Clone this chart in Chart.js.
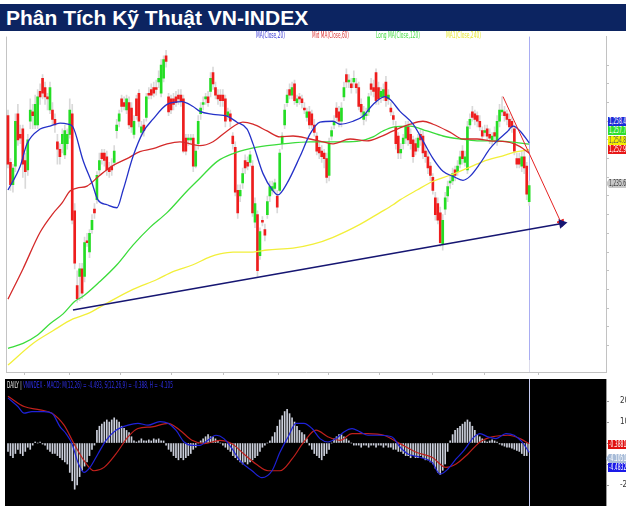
<!DOCTYPE html>
<html>
<head>
<meta charset="utf-8">
<script src="https://cdn.jsdelivr.net/npm/chart.js@4/dist/chart.umd.min.js"></script>
<style>
  body { margin: 0; width: 626px; height: 506px; overflow: hidden; background: #fff; position: relative; font-family: 'Liberation Sans', Arial, sans-serif; }
  #title { position: absolute; left: 0; top: 4px; width: 626px; height: 27px; background: #0c2461; color: #fff; font-weight: bold; font-size: 21px; line-height: 28px; padding-left: 6px; box-sizing: border-box; white-space: nowrap; }
  #main { position: absolute; left: 0; top: 31px; }
  #macd { position: absolute; left: 0; top: 379px; }
  .nt { position: absolute; font: 8px/9px 'Liberation Sans Narrow', 'Arial Narrow', 'DejaVu Sans Condensed', sans-serif; white-space: nowrap; transform-origin: 0 0; }
  .bd { position: absolute; left: 608px; width: 20px; height: 9px; font: 8px/9px 'Liberation Sans Narrow', 'Arial Narrow', 'DejaVu Sans Condensed', sans-serif; padding-left: 1px; white-space: nowrap; overflow: hidden; color: #fff; }
  .bd span { display: inline-block; transform: scaleX(0.62); transform-origin: 0 0; }
  .tag { left: 606px; width: 22px; padding-left: 3px; clip-path: polygon(0 50%, 3px 0, 100% 0, 100% 100%, 3px 100%); }
</style>
</head>
<body>
<div id="title">Phân Tích Kỹ Thuật VN-INDEX</div>
<canvas id="main" width="626" height="348"></canvas>
<canvas id="macd" width="626" height="127"></canvas>

<div class="nt" data-w="29" style="left:256px;top:31px;color:#3b3bd6">MA(Close,20)</div>
<div class="nt" data-w="37" style="left:312px;top:31px;color:#dd3a3a">Mid MA(Close,60)</div>
<div class="nt" data-w="44" style="left:376px;top:31px;color:#44dd44">Long MA(Close,120)</div>
<div class="nt" data-w="35" style="left:446px;top:31px;color:#e6e632">MA1(Close,240)</div>

<div class="bd" style="top:117px;background:#1d2bd8"><span>1,258.4</span></div>
<div class="bd" style="top:126px;background:#2ee02e"><span>1,257.7</span></div>
<div class="bd" style="top:136px;background:#f4f000;color:#555"><span>1,254.8</span></div>
<div class="bd" style="top:145px;background:#e81818"><span>1,252.9</span></div>
<div class="bd tag" style="top:179px;background:#c8c8c8;color:#333"><span>1,235.6</span></div>

<div class="nt" data-w="166" style="left:7px;top:381px"><span style="color:#e6e6e6">DAILY | </span><span style="color:#2e2ee6">VNINDEX - MACD: M(12,26) = -4.493, S(12,26,9) = -0.388, H = -4.105</span></div>

<div class="bd" style="top:440px;background:#e01010"><span>-0.3881</span></div>
<div class="bd tag" style="top:454px;background:#a8bcd8"><span>-4.1051</span></div>
<div class="bd" style="top:463px;background:#1a1ae8"><span>-4.4832</span></div>

<script>
// daily candles (index 0 = first bar on the left)
var open = [
1273,1248,1236,1246,1274,1263,1266,1249,1244,1270,
1275,1268,1268,1286,1293,1288,1283,1276,1276,1271,
1259,1255,1258,1252,1258,1263,1274,1222,1182,1187,
1191,1187,1206,1200,1212,1223,1228,1244,1253,1253,
1251,1245,1246,1248,1265,1270,1282,1280,1276,1280,
1277,1263,1282,1285,1264,1268,1272,1285,1287,1288,
1288,1291,1285,1293,1305,1283,1282,1282,1283,1284,
1284,1282,1261,1260,1260,1261,1246,1258,1274,1279,
1282,1283,1286,1296,1288,1284,1284,1284,1282,1273,
1274,1262,1256,1233,1230,1237,1249,1248,1248,1246,
1216,1220,1198,1217,1212,1220,1230,1233,1234,1230,
1233,1258,1268,1280,1287,1284,1290,1280,1283,1282,
1277,1272,1275,1274,1268,1262,1256,1254,1253,1250,
1241,1262,1268,1277,1275,1270,1283,1295,1291,1290,
1291,1290,1288,1279,1271,1273,1275,1290,1288,1296,
1288,1283,1283,1291,1282,1277,1273,1267,1262,1253,
1258,1261,1267,1263,1260,1258,1256,1263,1262,1254,
1251,1246,1240,1229,1226,1221,1204,1223,1230,1237,
1238,1244,1243,1247,1254,1248,1244,1268,1275,1274,
1273,1270,1265,1264,1266,1263,1260,1264,1259,1270,
1275,1275,1274,1271,1270,1266,1250,1250,1246,1251,
1246,1227];
var close = [
1247,1236,1245,1270,1260,1261,1247,1243,1260,1276,
1273,1279,1283,1283,1285,1283,1282,1288,1271,1268,
1255,1251,1263,1265,1263,1276,1217,1194,1175,1191,
1178,1205,1205,1210,1217,1221,1241,1249,1250,1249,
1244,1243,1244,1254,1268,1274,1278,1278,1282,1268,
1267,1270,1273,1270,1267,1265,1283,1284,1284,1285,
1287,1293,1300,1303,1302,1275,1276,1279,1280,1282,
1281,1254,1254,1261,1261,1246,1254,1270,1277,1280,
1283,1280,1293,1290,1284,1282,1281,1281,1270,1275,
1270,1258,1232,1221,1233,1242,1245,1246,1252,1221,
1226,1190,1211,1216,1209,1227,1235,1235,1237,1224,
1253,1262,1276,1284,1284,1288,1281,1282,1282,1280,
1276,1275,1268,1268,1264,1254,1253,1251,1250,1240,
1258,1265,1270,1272,1270,1277,1288,1291,1292,1288,
1293,1288,1278,1275,1275,1274,1283,1287,1286,1281,
1282,1286,1287,1281,1284,1275,1271,1258,1253,1255,
1261,1267,1260,1258,1251,1254,1261,1260,1253,1251,
1245,1241,1233,1220,1217,1205,1217,1229,1235,1238,
1242,1241,1246,1251,1250,1251,1267,1271,1272,1271,
1270,1267,1262,1265,1262,1261,1262,1262,1270,1276,
1276,1273,1271,1267,1267,1254,1247,1247,1251,1245,
1231,1235.6];
var high = [
1276,1250,1247,1274,1279,1268,1268,1253,1263,1282,
1279,1284,1287,1290,1295,1291,1285,1291,1280,1274,
1263,1258,1266,1268,1266,1282,1279,1226,1190,1194,
1194,1208,1210,1212,1220,1226,1243,1253,1255,1255,
1254,1248,1250,1257,1271,1276,1284,1283,1284,1283,
1280,1273,1284,1287,1270,1271,1285,1288,1290,1291,
1292,1297,1303,1305,1308,1285,1284,1285,1286,1287,
1287,1284,1263,1263,1263,1263,1257,1273,1280,1283,
1285,1286,1296,1299,1291,1287,1287,1287,1284,1277,
1276,1264,1259,1236,1236,1245,1252,1251,1254,1249,
1229,1222,1213,1219,1215,1230,1238,1238,1239,1233,
1255,1264,1279,1287,1290,1291,1292,1284,1285,1284,
1280,1277,1278,1276,1271,1264,1259,1257,1255,1253,
1261,1267,1273,1280,1278,1280,1291,1298,1295,1293,
1297,1293,1291,1282,1278,1277,1285,1293,1292,1298,
1291,1288,1290,1294,1287,1280,1275,1270,1264,1258,
1263,1270,1270,1266,1262,1261,1263,1266,1265,1257,
1254,1248,1242,1232,1229,1224,1220,1232,1238,1241,
1245,1246,1249,1254,1257,1254,1270,1274,1278,1276,
1275,1273,1267,1268,1268,1266,1264,1267,1273,1279,
1283,1278,1276,1274,1272,1268,1253,1253,1254,1254,
1248,1238];
var low = [
1245,1233,1232,1243,1257,1258,1240,1234,1241,1266,
1266,1266,1266,1279,1282,1279,1276,1274,1268,1264,
1247,1247,1253,1250,1255,1261,1215,1191,1173,1174,
1175,1184,1203,1197,1210,1218,1226,1241,1247,1246,
1241,1240,1241,1246,1261,1267,1275,1276,1274,1266,
1264,1261,1271,1267,1262,1262,1270,1282,1282,1283,
1284,1288,1283,1291,1299,1273,1274,1276,1278,1279,
1278,1253,1252,1257,1258,1243,1245,1255,1271,1276,
1279,1278,1283,1287,1282,1279,1278,1278,1267,1271,
1267,1255,1230,1218,1227,1234,1242,1244,1246,1219,
1213,1187,1196,1214,1206,1218,1227,1231,1232,1221,
1232,1255,1266,1278,1282,1282,1279,1278,1279,1277,
1274,1270,1266,1266,1262,1252,1250,1248,1245,1237,
1238,1260,1266,1270,1267,1267,1281,1288,1288,1285,
1288,1285,1276,1273,1268,1270,1273,1284,1283,1279,
1279,1280,1281,1278,1279,1273,1268,1255,1250,1250,
1255,1258,1257,1255,1248,1252,1254,1257,1250,1248,
1242,1238,1231,1217,1215,1203,1201,1220,1227,1234,
1236,1238,1241,1245,1247,1246,1242,1266,1270,1268,
1267,1265,1260,1262,1260,1258,1257,1259,1257,1267,
1273,1270,1268,1265,1264,1252,1245,1245,1243,1242,
1228,1225];

// moving averages: bar position / value pairs
var ma20X = [0,4.9,7.7,13.0,17.0,21.1,24.3,26.3,30.4,34.0,36.4,40.1,44.1,46.6,50.6,54.7,58.7,64.4,70.4,74.9,77.7,83.0,88.7,92.7,96.8,99.2,103.2,107.3,109.3,113.0,118.2,122.3,126.3,131.6,134.4,139.7,143.7,147.8,152.6,154.7,158.7,164.0,168.0,172.1,176.1,180.2,184.2,187.0,191.1,195.1,198.0,202.0,204.5,207.3,211];
var ma20 = [1233.2,1245.8,1257.9,1265.8,1267.4,1269.0,1268.4,1266.9,1249.0,1236.9,1227.9,1225.3,1223.7,1233.2,1251.1,1264.2,1271.1,1279.0,1280.5,1277.9,1275.3,1273.7,1272.7,1269.5,1265.8,1257.9,1242.1,1232.7,1230.6,1236.9,1251.1,1263.2,1269.5,1270.0,1268.4,1270.0,1272.7,1279.0,1283.2,1281.6,1275.3,1268.4,1259.5,1250.0,1243.2,1240.5,1238.4,1240.5,1247.4,1255.3,1259.5,1264.2,1267.4,1264.8,1258.4];
var ma60X = [0,6.1,13.0,18.2,21.9,25.1,27.9,32.0,37.2,42.5,48.2,53.4,58.7,64.4,69.6,73.7,77.7,83.0,88.7,95.1,99.2,104.9,110.1,115.4,122.3,127.5,131.6,138.5,145.3,150.6,155.9,162.8,168.0,172.1,178.9,184.2,189.9,195.1,202.0,207.3,211];
var ma60 = [1174.8,1191.1,1210.6,1220.6,1226.3,1232.7,1234.2,1235.3,1241.1,1246.3,1250.0,1253.7,1255.3,1257.9,1259.0,1257.9,1256.9,1259.0,1264.8,1269.5,1268.4,1264.8,1261.6,1262.1,1260.5,1259.0,1257.9,1260.5,1259.5,1261.6,1264.8,1268.4,1270.0,1268.4,1264.2,1260.5,1260.5,1259.5,1259.0,1256.4,1252.9];
var ma120X = [0,6.1,11.7,17.0,22.3,27.1,30.4,37.2,44.1,50.6,57.5,64.4,72.5,77.7,84.6,91.1,98.0,104.9,111.3,122.3,135.6,142.5,147.8,151.8,155.9,162.8,169.6,176.1,183.0,189.9,196.4,203.2,211];
var ma120 = [1148.5,1151.1,1155.3,1161.6,1166.9,1173.7,1176.3,1184.2,1193.2,1203.7,1213.2,1221.1,1232.7,1239.5,1248.4,1252.7,1255.3,1256.9,1257.9,1259.0,1259.0,1259.5,1261.6,1264.8,1266.9,1267.4,1264.8,1262.1,1260.5,1259.5,1259.5,1259.0,1257.7];
var ma240X = [0,10.1,18.2,26.3,32.0,40.1,50.6,60.3,66.8,74.9,81.8,85.8,91.1,99.2,104.9,115.4,123.5,131.6,142.5,150.6,155.9,158.7,165.6,172.1,178.9,185.8,192.3,199.2,206.1,211];
var ma240 = [1139.5,1151.1,1157.9,1164.2,1166.9,1172.7,1180.0,1185.3,1189.5,1193.2,1197.4,1199.0,1200.0,1200.0,1201.1,1202.1,1204.2,1207.9,1214.8,1221.1,1225.3,1227.9,1233.2,1237.9,1241.1,1244.8,1248.4,1251.1,1253.7,1254.8];

// hand drawn trend lines (start, end)
var supportX = [26.3, 224.3], supportY = [1169.0, 1215.3];
var downX = [200.4, 223.9], downY = [1283.2, 1215.8];

// first bar of each month on the time axis
var monthTicks = [15.8, 34.4, 56.3, 75.7, 98.8, 120.6, 139.3, 161.5, 182.2, 204.0];

// MACD panel
var macdHist = [
-4,-6,-7,-5, -3,-5,-6,-4,-2,-3, -1,0.5,0,0.5,-0.5, -1,-3,-4,-5, -5,-6,-7,-8,
-9,-10,-14,-18,-22, -20,-16,-13, -11,-9,-6,-3,-1,
6,8,9,10,11,10,11,12,11,10, 8,7,6,5,3, 1,0.5,1,2,1, 1,1.5,1,2,1.5,2,1,1,
-1,-3,-4,-6,-7,-8,-7,-8,-7,-6,-5, -3,-2,0,1, 2,3,4,3,3,2, 1,0,-1,-2,-3,-4,
-6,-7,-8,-9,-10,-9,-10,-9,-8,-7,-6,-4,-2, -1,0,1,3,5, 8,11,13,15,16,14,12,10,
8,6,5,4,2, -1,-3,-5,-6,-7,-8,-6,-5,-3, 0,2,3,4,4,3,2,1,0,-1,
-1,-1,-2,-1,-1,-2,-1,-1,-2,-1,-1,-2,-1,-2,-2,-3,-3,
-4,-4,-5,-6,-6,-7,-6,-7,-7,-6,-7,-8,-8,-9,-10, -12,-14,-15,-13,-10,
-4,1,4,6,7,8,9,10,11,10, 8,6,4,3,2,1,0.5,1,
1.5,1,0.5,-0.5,-1,-1.5,-2,-2, -2.5,-3,-3.5,-4,-5,-6,-6,-4.1];
var macdX = [0,4.0,6.5,9.7,14.6,17.8,21.1,23.5,25.9,28.3,30.8,33.2,36.4,39.7,43.7,48.6,52.6,56.7,61.5,64.8,68.0,71.3,74.5,77.7,80.9,84.2,87.4,90.7,93.9,98.8,102.8,106.9,110.1,113.4,116.6,119.8,123.1,126.3,129.6,132.8,136.0,139.3,142.5,145.7,150.6,155.5,158.7,161.9,166.8,171.7,174.9,178.1,181.4,184.6,188.7,191.1,194.3,197.6,201.6,204.9,208.1,211];
var macdVal = [21.5,17.4,14.2,15,15,14.2,7.7,4.5,-0.3,-9.2,-14,-11.6,-5.2,1.3,6.1,8.5,9.4,8.5,10.2,9.4,6.1,0.5,-1.1,-1.1,1.3,3.7,2.1,-2.7,-8.4,-13.2,-16.5,-13.2,-4.4,2.9,9.4,9.4,6.9,2.1,0.5,2.1,5.3,6.9,5.3,3.7,3.7,2.9,-1.9,-5.2,-6.8,-9.2,-14.8,-12.4,-7.6,-3.5,2.9,4.5,2.9,2.1,4.5,3.7,0.5,-4.493];
var signalX = [0,6.5,13.0,17.8,22.7,26.7,30.8,34.8,38.9,43.7,48.6,52.6,58.3,64.8,69.6,74.5,79.4,85.8,90.7,95.5,100.4,105.3,110.1,115.0,119.8,124.7,129.6,134.4,139.3,145.7,152.2,158.7,165.2,171.7,177.3,181.4,186.2,191.1,196.0,202.4,207.3,211];
var signalVal = [22.3,17.4,15.8,14.2,8.5,-0.3,-8.4,-13.2,-11.6,-5.2,2.9,6.9,7.7,9.4,6.1,1.3,-0.3,1.3,-0.3,-5.2,-10,-13.2,-13.2,-7.6,0.5,6.1,2.9,1.3,4.5,4.5,3.7,-0.3,-4.4,-6.8,-11.6,-10,-5.2,0.5,2.9,3.7,2.1,-0.388];
var macdTicks = [-20, -10, 0, 10, 20];

var idx = open.map(function(v, i) {return i});
var last = open.length - 1;
var xMin = -0.81, xMax = 242.1;
var narrow = "'Liberation Sans Narrow', 'Arial Narrow', 'DejaVu Sans Condensed', sans-serif";

function pts(xs, ys) {
  return xs.map(function(x, k) {return {x: x, y: ys[k]}});
}
function maLine(label, xs, ys, color, order) {
  return {type: 'line', label: label, data: pts(xs, ys), borderColor: color, borderWidth: 1.3,
          pointRadius: 0, cubicInterpolationMode: 'monotone', order: order};
}
function arrow(label, xs, ys, color, width, rot) {
  return {type: 'line', label: label, data: pts(xs, ys), borderColor: color, borderWidth: width,
          pointStyle: 'triangle', pointRadius: [0, 4], pointRotation: [0, rot],
          pointBackgroundColor: color, pointBorderColor: color, order: 0};
}

// left frame + cursor line on the last bar
var mainFrame = {
  id: 'mainFrame',
  beforeDatasetsDraw: function(chart) {
    var ctx = chart.ctx, a = chart.chartArea;
    var x = Math.round(chart.scales.x.getPixelForValue(last)) + 0.5;
    ctx.save();
    ctx.lineWidth = 1;
    ctx.strokeStyle = '#c4c4c4';
    ctx.beginPath(); ctx.moveTo(a.left + 0.5, a.top); ctx.lineTo(a.left + 0.5, a.bottom); ctx.stroke();
    ctx.strokeStyle = '#a9adf2';
    ctx.beginPath(); ctx.moveTo(x, a.top); ctx.lineTo(x, a.bottom - 12); ctx.stroke();
    ctx.strokeStyle = '#dcdcec';
    ctx.beginPath(); ctx.moveTo(x, a.bottom - 12); ctx.lineTo(x, a.bottom); ctx.stroke();
    ctx.restore();
  }
};

new Chart(document.getElementById('main'), {
  type: 'bar',
  data: {
    datasets: [
      {label: 'wick', data: idx.map(function(i) {return {x: i, y: [low[i], high[i]]}}),
       backgroundColor: '#d9d9d9', barThickness: 1, grouped: false, order: 6},
      {label: 'body', data: idx.map(function(i) {return {x: i, y: [open[i], close[i]]}}),
       backgroundColor: idx.map(function(i) {return close[i] >= open[i] ? '#24dd24' : '#ee1d1d'}),
       barThickness: 2, minBarLength: 1, grouped: false, order: 5},
      maLine('MA1(Close,240)', ma240X, ma240, '#f2ef3a', 4),
      maLine('Long MA(Close,120)', ma120X, ma120, '#3bdc3b', 3),
      maLine('Mid MA(Close,60)', ma60X, ma60, '#d42a2a', 2),
      maLine('MA(Close,20)', ma20X, ma20, '#2431c8', 1),
      arrow('support', supportX, supportY, '#161672', 1.6, 80),
      arrow('down', downX, downY, '#e52222', 1, 156)
    ]
  },
  options: {
    animation: false,
    responsive: false,
    events: [],
    layout: {padding: {left: 6, right: 0, top: 0, bottom: 0}},
    plugins: {legend: {display: false}, tooltip: {enabled: false}},
    scales: {
      x: {
        type: 'linear', min: xMin, max: xMax, offset: false,
        ticks: {display: false},
        grid: {drawOnChartArea: false, tickLength: 3, color: '#c2c2c2'},
        border: {color: '#c2c2c2'},
        afterBuildTicks: function(s) { s.ticks = monthTicks.map(function(v) {return {value: v}}); },
        afterFit: function(s) { s.height = 7; }
      },
      y: {
        position: 'right', min: 1135.8, max: 1315.3,
        ticks: {display: false, stepSize: 10},
        grid: {drawOnChartArea: false, tickLength: 3, color: '#c2c2c2'},
        border: {color: '#c2c2c2'},
        afterBuildTicks: function(s) { s.ticks = s.ticks.filter(function(t) {return Math.abs(t.value % 10) < 1e-6}); },
        afterFit: function(s) { s.width = 20; }
      }
    }
  },
  plugins: [mainFrame]
});

var macdFrame = {
  id: 'macdFrame',
  beforeDraw: function(chart) {
    var ctx = chart.ctx, a = chart.chartArea;
    ctx.save();
    ctx.fillStyle = '#000';
    ctx.fillRect(a.left - 1, a.top, a.right - a.left + 1, a.bottom - a.top);
    ctx.restore();
  },
  beforeDatasetsDraw: function(chart) {
    var ctx = chart.ctx, a = chart.chartArea;
    var x = Math.round(chart.scales.x.getPixelForValue(last)) + 0.5;
    ctx.save();
    ctx.strokeStyle = '#c6ccf4';
    ctx.lineWidth = 1;
    ctx.beginPath(); ctx.moveTo(x, a.top); ctx.lineTo(x, a.bottom); ctx.stroke();
    ctx.restore();
  },
  afterDraw: function(chart) {
    // right axis numbers sit past the edge of the picture, so only their start shows
    var ctx = chart.ctx, y = chart.scales.y;
    ctx.save();
    ctx.fillStyle = '#333';
    ctx.font = '8px ' + narrow;
    ctx.textBaseline = 'middle';
    [20, 10, -20].forEach(function(v) {
      ctx.fillText(String(v), 620, y.getPixelForValue(v));
    });
    ctx.restore();
  }
};

new Chart(document.getElementById('macd'), {
  type: 'bar',
  data: {
    datasets: [
      {label: 'H', data: idx.map(function(i) {return {x: i, y: macdHist[i]}}),
       backgroundColor: '#ccd0dc', barThickness: 1, order: 3},
      {type: 'line', label: 'S', data: pts(signalX, signalVal), borderColor: '#c0201c', borderWidth: 1.2,
       pointRadius: 0, cubicInterpolationMode: 'monotone', order: 2},
      {type: 'line', label: 'M', data: pts(macdX, macdVal), borderColor: '#1e22d8', borderWidth: 1.2,
       pointRadius: 0, cubicInterpolationMode: 'monotone', order: 1}
    ]
  },
  options: {
    animation: false,
    responsive: false,
    events: [],
    layout: {padding: {left: 6, right: 0, top: 0, bottom: 0}},
    plugins: {legend: {display: false}, tooltip: {enabled: false}},
    scales: {
      x: {type: 'linear', min: xMin, max: xMax, offset: false, display: false},
      y: {
        position: 'right', min: -30, max: 30.5,
        ticks: {display: false},
        grid: {drawOnChartArea: false, tickLength: 3, color: '#999'},
        border: {color: '#999'},
        afterBuildTicks: function(s) { s.ticks = macdTicks.map(function(v) {return {value: v}}); },
        afterFit: function(s) { s.width = 20; }
      }
    }
  },
  plugins: [macdFrame]
});

// squeeze the small condensed labels to the widths seen in the picture
document.querySelectorAll('[data-w]').forEach(function(el) {
  el.style.transform = 'scaleX(' + (+el.dataset.w / el.scrollWidth) + ')';
});
</script>
</body>
</html>
